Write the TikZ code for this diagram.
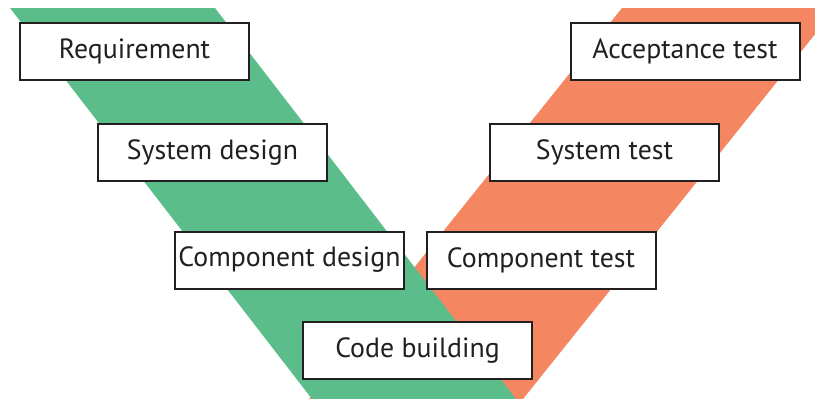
\documentclass[tikz,border=0pt]{standalone}
\usepackage{fontspec}
\setmainfont{PT Sans}
\definecolor{vgreen}{RGB}{91,190,138}
\definecolor{vorange}{RGB}{244,134,98}
\definecolor{ink}{RGB}{35,31,32}
\begin{document}
\begin{tikzpicture}[x=1pt,y=-1pt,
  phase/.style={draw=ink, line width=2pt, fill=white, rectangle,
    minimum width=229pt, minimum height=57pt, inner sep=0pt,
    text=ink, font=\fontsize{27.8}{32}\selectfont}]
\useasboundingbox (0,0) rectangle (815,399);
\begin{scope}
  \clip (0,0) rectangle (815,399);
  % right arm of the V (testing), drawn underneath
  \fill[vorange] (622,8) -- (836,8) -- (523,399) -- (309,399) -- cycle;
  % left arm of the V (design)
  \fill[vgreen] (10,8) -- (215,8) -- (516,399) -- (312,399) -- cycle;
\end{scope}
\node[phase] (req) at (134.5,51.5) {Requirement};
\node[phase] (sysd) at (212.5,152.5) {System design};
\node[phase] (compd) at (289.5,260) {Component design};
\node[phase] (code) at (417.5,350.5) {Code building};
\node[phase] (compt) at (541,260) {Component test};
\node[phase] (syst) at (604.5,152.5) {System test};
\node[phase] (acc) at (685,51.5) {Acceptance test};
\end{tikzpicture}
\end{document}
